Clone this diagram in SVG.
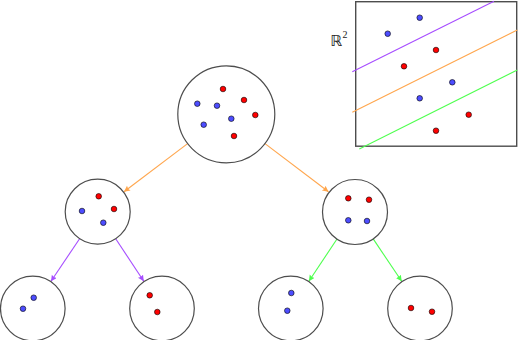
<svg xmlns="http://www.w3.org/2000/svg" width="518" height="340" viewBox="0 0 518 340">
<style>
.node{fill:#ffffff;stroke:#4d4d4d;stroke-width:1.2}
.b{fill:#4d4dff;stroke:#000;stroke-width:0.6}
.r{fill:#ff0000;stroke:#000;stroke-width:0.6}
.e{fill:none;stroke-width:1.1}
</style>
<defs>
<marker id="ao" markerUnits="userSpaceOnUse" markerWidth="8" markerHeight="8" refX="6" refY="3" orient="auto"><path d="M0,0 L6,3 L0,6 Q1.5,3 0,0z" fill="#ffa64d"/></marker>
<marker id="ap" markerUnits="userSpaceOnUse" markerWidth="8" markerHeight="8" refX="6" refY="3" orient="auto"><path d="M0,0 L6,3 L0,6 Q1.5,3 0,0z" fill="#a64dff"/></marker>
<marker id="ag" markerUnits="userSpaceOnUse" markerWidth="8" markerHeight="8" refX="6" refY="3" orient="auto"><path d="M0,0 L6,3 L0,6 Q1.5,3 0,0z" fill="#4dff4d"/></marker>
<clipPath id="boxclip"><rect x="352" y="0" width="166" height="150"/></clipPath>
</defs>
<g id="edges">
<line class="e" stroke="#ffa64d" x1="187.6" y1="143.6" x2="124" y2="191.8" marker-end="url(#ao)"/>
<line class="e" stroke="#ffa64d" x1="265" y1="143.6" x2="328.5" y2="191.8" marker-end="url(#ao)"/>
<line class="e" stroke="#a64dff" x1="79.6" y1="238.7" x2="51" y2="281.3" marker-end="url(#ap)"/>
<line class="e" stroke="#a64dff" x1="115.7" y1="238.8" x2="143.8" y2="281.2" marker-end="url(#ap)"/>
<line class="e" stroke="#4dff4d" x1="337" y1="239" x2="308.9" y2="281.2" marker-end="url(#ag)"/>
<line class="e" stroke="#4dff4d" x1="373.2" y1="238.9" x2="401.7" y2="281.3" marker-end="url(#ag)"/>
</g>
<g id="root">
<circle class="node" cx="226.3" cy="114.3" r="48.5"/>
<circle class="r" cx="223" cy="89" r="2.8"/>
<circle class="r" cx="244" cy="100" r="2.8"/>
<circle class="b" cx="197.3" cy="103.7" r="2.8"/>
<circle class="b" cx="217" cy="105.7" r="2.8"/>
<circle class="r" cx="255.3" cy="115" r="2.8"/>
<circle class="b" cx="231.3" cy="118.7" r="2.8"/>
<circle class="b" cx="203.7" cy="124.7" r="2.8"/>
<circle class="r" cx="234" cy="136" r="2.8"/>
</g>
<g id="left">
<circle class="node" cx="97.7" cy="211.7" r="32.5"/>
<circle class="r" cx="98.7" cy="196.3" r="2.8"/>
<circle class="r" cx="114" cy="209" r="2.8"/>
<circle class="b" cx="82" cy="211" r="2.8"/>
<circle class="b" cx="103.3" cy="222.7" r="2.8"/>
</g>
<g id="right">
<circle class="node" cx="355" cy="212" r="32.5"/>
<circle class="r" cx="348.3" cy="198.3" r="2.8"/>
<circle class="r" cx="369" cy="199.7" r="2.8"/>
<circle class="b" cx="348.3" cy="220.3" r="2.8"/>
<circle class="b" cx="367" cy="221" r="2.8"/>
</g>
<g id="ll">
<circle class="node" cx="32.8" cy="308.5" r="32.3"/>
<circle class="b" cx="33.7" cy="297.7" r="2.8"/>
<circle class="b" cx="23" cy="308.7" r="2.8"/>
</g>
<g id="lr">
<circle class="node" cx="162" cy="308.5" r="32.3"/>
<circle class="r" cx="149.7" cy="295.3" r="2.8"/>
<circle class="r" cx="157.3" cy="312" r="2.8"/>
</g>
<g id="rl">
<circle class="node" cx="290.8" cy="308.5" r="32.3"/>
<circle class="b" cx="291.3" cy="293" r="2.8"/>
<circle class="b" cx="287.3" cy="310.7" r="2.8"/>
</g>
<g id="rr">
<circle class="node" cx="420" cy="308.5" r="32.3"/>
<circle class="r" cx="411" cy="308" r="2.8"/>
<circle class="r" cx="432" cy="311.7" r="2.8"/>
</g>
<g id="plane">
<rect x="355.7" y="1.7" width="161" height="144.5" fill="#ffffff" stroke="#4d4d4d" stroke-width="1.4"/>
<g clip-path="url(#boxclip)">
<line stroke="#a64dff" stroke-width="1.1" x1="352.3" y1="71.7" x2="494" y2="1.3"/>
<line stroke="#ffa64d" stroke-width="1.1" x1="352.3" y1="112.3" x2="517.3" y2="30"/>
<line stroke="#4dff4d" stroke-width="1.1" x1="359.3" y1="149" x2="517.3" y2="70"/>
</g>
<circle class="b" cx="419.7" cy="17.7" r="2.8"/>
<circle class="b" cx="387.7" cy="33.7" r="2.8"/>
<circle class="r" cx="436" cy="50" r="2.8"/>
<circle class="r" cx="404" cy="66.3" r="2.8"/>
<circle class="b" cx="452.3" cy="82.3" r="2.8"/>
<circle class="b" cx="419.7" cy="98.3" r="2.8"/>
<circle class="r" cx="468.7" cy="114.7" r="2.8"/>
<circle class="r" cx="436" cy="130.7" r="2.8"/>
<text x="330.5" y="45.5" font-family="'DejaVu Sans', sans-serif" font-size="15" fill="#222">ℝ<tspan dy="-8" font-family="'Liberation Serif', serif" font-size="10">2</tspan></text>
</g>
</svg>
